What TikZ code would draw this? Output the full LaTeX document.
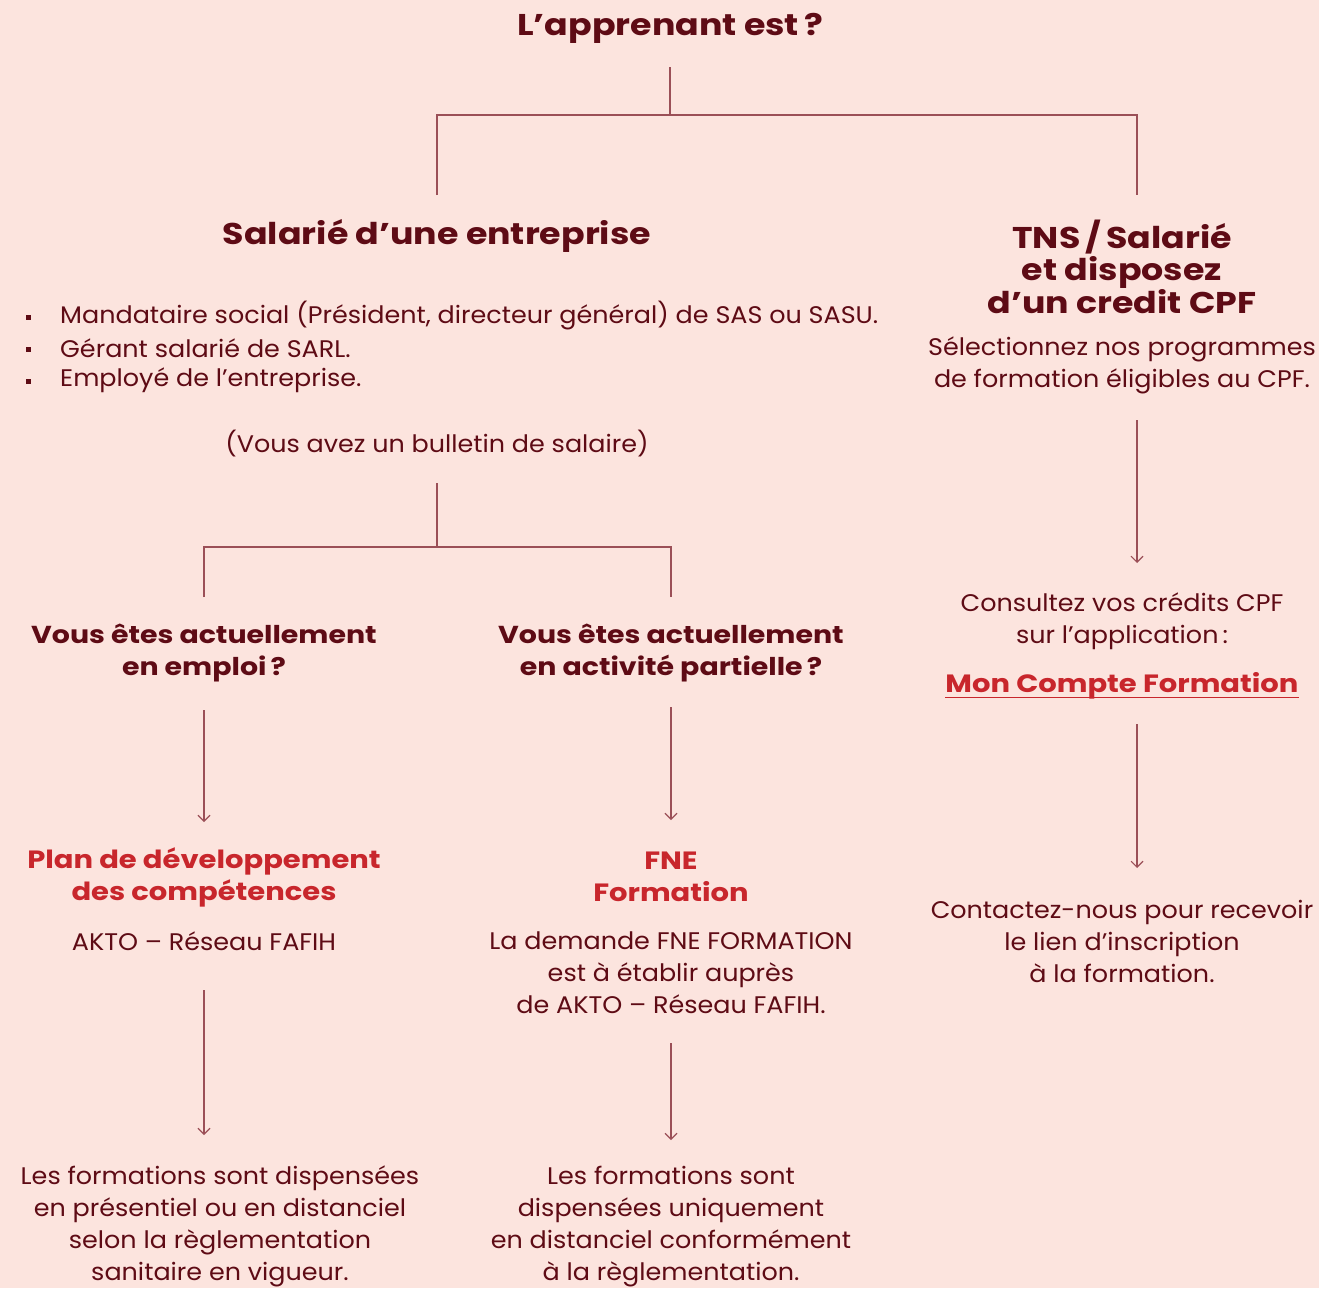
\documentclass[tikz,border=0pt]{standalone}
\usepackage{fontspec}
\setmainfont{Poppins}
\newfontfamily\bodyf[FakeStretch=1.06]{Poppins}
\newfontfamily\headf[FakeStretch=1.16]{Poppins}
\usetikzlibrary{arrows.meta}
\definecolor{bg}{HTML}{FCE4DE}
\definecolor{dark}{HTML}{5E0B15}
\definecolor{redt}{HTML}{C8262C}
\definecolor{linec}{HTML}{9B4F57}
\begin{document}
\begin{tikzpicture}[x=1pt,y=-1pt,
  body/.style={text=dark,align=center,font=\bodyf\fontsize{24}{32}\selectfont,inner sep=0pt},
  head/.style={text=dark,align=center,font=\headf\fontsize{30}{32}\selectfont\bfseries,inner sep=0pt},
  sub/.style={text=dark,align=center,font=\headf\fontsize{24.5}{32}\selectfont\bfseries,inner sep=0pt},
  redh/.style={text=redt,align=center,font=\headf\fontsize{25}{32}\selectfont\bfseries,inner sep=0pt},
  conn/.style={draw=linec,line width=1.1pt},
  arr/.style={conn,-{Straight Barb[length=6pt,width=12pt]}},
  bullet/.style={fill=dark,minimum size=5pt,inner sep=0pt}]
\fill[bg] (0,0) rectangle (1319,1288);
\useasboundingbox (0,0) rectangle (1319,1288);

% title
\node[head] (title) at (670,28) {L’apprenant est\,?};
\coordinate (t0) at (670,67);
\coordinate (t1) at (670,115);
\coordinate (tl) at (437,115);
\coordinate (tr) at (1137,115);
\coordinate (sl) at (437,195);
\coordinate (sr) at (1137,195);
\draw[conn] (t0) -- (t1);
\draw[conn] (sl) -- (tl) -- (tr) -- (sr);

% left branch
\node[head] (sal) at (437,236) {Salarié d’une entreprise};
\node[bullet] (b1) at (28,317) {};
\node[bullet] (b2) at (28,349) {};
\node[bullet] (b3) at (28,381) {};
\node[body,anchor=west] (l1) at (60,316) {Mandataire social (Président, directeur général) de SAS ou SASU.};
\node[body,anchor=west] (l2) at (60,348) {Gérant salarié de SARL.};
\node[body,anchor=west] (l3) at (60,380) {Employé de l’entreprise.};
\node[body] (bul) at (437,444) {(Vous avez un bulletin de salaire)};

\coordinate (m0) at (437,483);
\coordinate (m1) at (437,547);
\coordinate (ml) at (204,547);
\coordinate (mr) at (671,547);
\coordinate (nl) at (204,597);
\coordinate (nr) at (671,597);
\draw[conn] (m0) -- (m1);
\draw[conn] (nl) -- (ml) -- (mr) -- (nr);

\node[sub] (emp) at (204,653) {Vous êtes actuellement\\en emploi\,?};
\node[sub] (act) at (671,653) {Vous êtes actuellement\\en activité partielle\,?};

\coordinate (a1s) at (204,710);
\coordinate (a1e) at (204,822);
\coordinate (a2s) at (671,707);
\coordinate (a2e) at (671,820);
\draw[arr] (a1s) -- (a1e);
\draw[arr] (a2s) -- (a2e);

\node[redh] (plan) at (204,877) {Plan de développement\\des compétences};
\node[body] (akto) at (204,941) {AKTO – Réseau FAFIH};
\node[redh] (fne) at (671,877) {FNE\\Formation};
\node[body] (dem) at (671,973) {La demande FNE FORMATION\\est à établir auprès\\de AKTO – Réseau FAFIH.};

\coordinate (a3s) at (204,990);
\coordinate (a3e) at (204,1135);
\coordinate (a4s) at (671,1043);
\coordinate (a4e) at (671,1140);
\draw[arr] (a3s) -- (a3e);
\draw[arr] (a4s) -- (a4e);

\node[body,anchor=north] (f1) at (220,1166) {Les formations sont dispensées\\en présentiel ou en distanciel\\selon la règlementation\\sanitaire en vigueur.};
\node[body,anchor=north] (f2) at (671,1166) {Les formations sont\\dispensées uniquement\\en distanciel conformément\\à la règlementation.};

% right branch
\node[head] (tns) at (1122,267) {TNS\,/\,Salarié\\et disposez\\d’un credit CPF};
\node[body] (sel) at (1122,365) {Sélectionnez nos programmes\\de formation éligibles au CPF.};
\coordinate (a5s) at (1137,420);
\coordinate (a5e) at (1137,563);
\draw[arr] (a5s) -- (a5e);
\node[body] (cons) at (1122,621) {Consultez vos crédits CPF\\sur l’application\,:};
\node[redh] (mcf) at (1122,686) {Mon Compte Formation};
\draw[draw=redt,line width=0.9pt] ([yshift=2pt]mcf.south west) -- ([yshift=2pt]mcf.south east);
\coordinate (a6s) at (1137,724);
\coordinate (a6e) at (1137,868);
\draw[arr] (a6s) -- (a6e);
\node[body] (cont) at (1122,941) {Contactez-nous pour recevoir\\le lien d’inscription\\à la formation.};
\end{tikzpicture}
\end{document}
